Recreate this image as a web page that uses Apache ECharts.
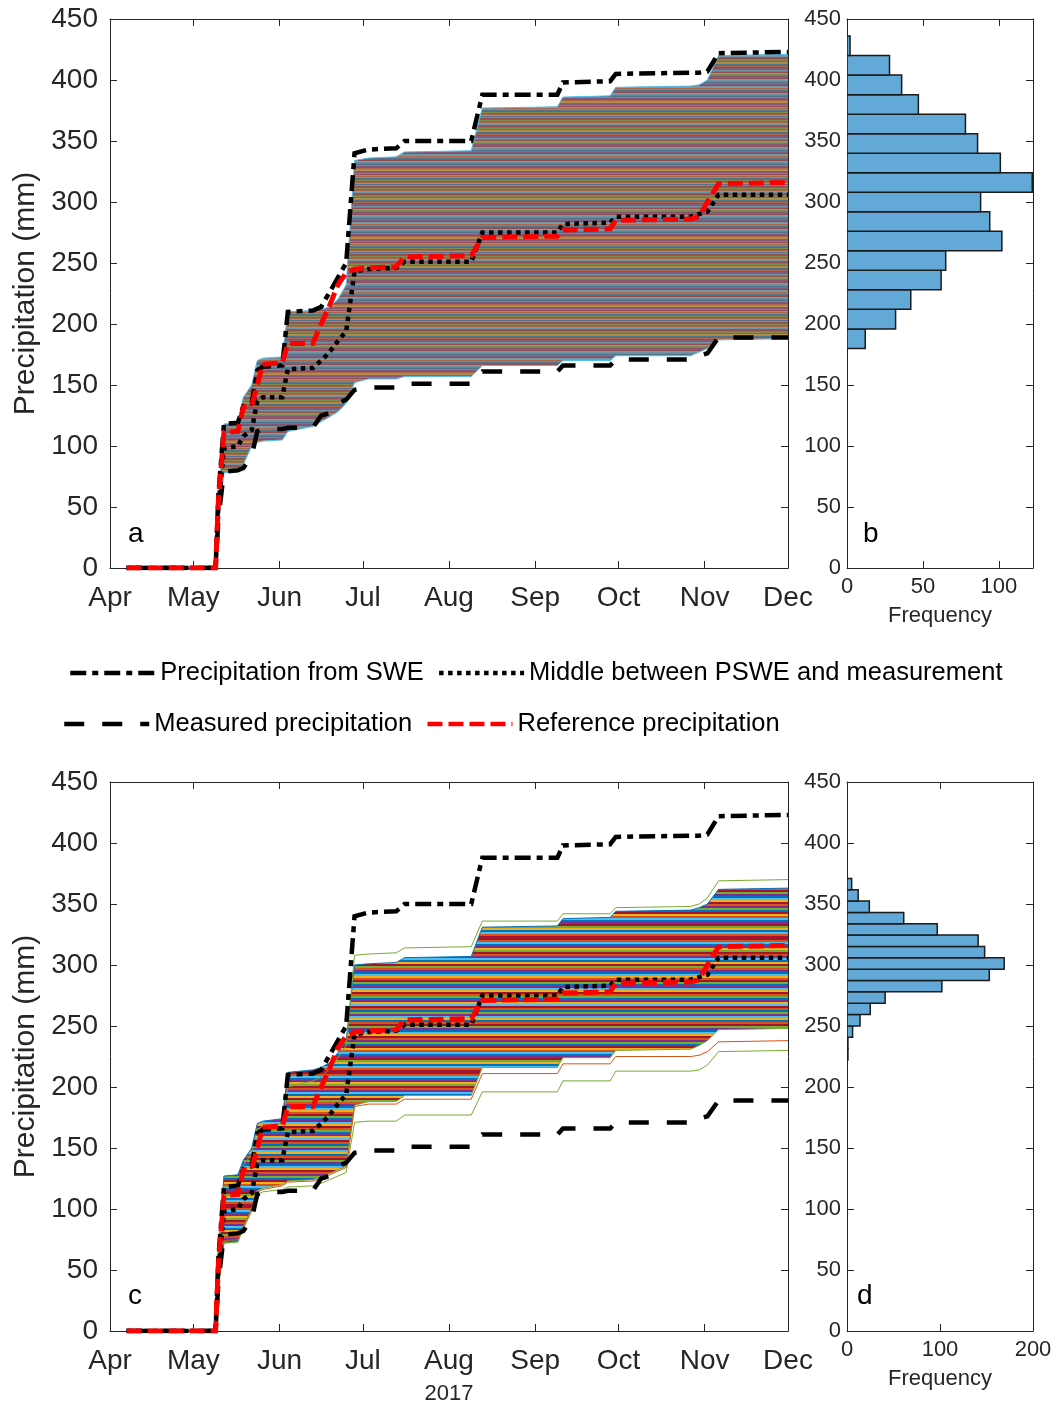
<!DOCTYPE html>
<html>
<head>
<meta charset="utf-8">
<script src="https://cdn.jsdelivr.net/npm/echarts@6.0.0/dist/echarts.min.js"></script>
<style>
  html, body { margin: 0; padding: 0; background: #fff; }
  #chart { width: 1056px; height: 1407px; }
</style>
</head>
<body>
<div id="chart"></div>
<script>
// ---- Cumulative precipitation, 2017 season (mm) ----
const stepDates = [
  '2017-04-07', '2017-05-09', '2017-05-10', '2017-05-12', '2017-05-17', '2017-05-19',
  '2017-05-22', '2017-05-24', '2017-05-26', '2017-06-02', '2017-06-04', '2017-06-13',
  '2017-06-16', '2017-06-19', '2017-06-22', '2017-06-25', '2017-06-28', '2017-07-03',
  '2017-07-13', '2017-07-16', '2017-08-09', '2017-08-13', '2017-09-09', '2017-09-11',
  '2017-09-28', '2017-09-30', '2017-10-27', '2017-10-30', '2017-11-02', '2017-11-06',
  '2017-12-01'
];
const psweValues      = [0, 0, 60, 118, 119, 133, 135, 162, 165, 166, 210, 211, 214, 226, 238, 250, 340, 343, 344, 350, 350, 388, 388, 398, 399, 405, 406, 406, 407, 422, 423];
const measuredValues  = [0, 0, 40, 79, 80, 82, 92, 112, 114, 114, 115, 115, 125, 127, 135, 138, 146, 148, 148, 151, 151, 161, 161, 166, 166, 171, 171, 174, 176, 189, 189];
const middleValues    = [0, 0, 50, 98, 100, 108, 113, 137, 140, 140, 163, 164, 170, 177, 186, 194, 243, 245, 246, 251, 251, 275, 275, 282, 283, 288, 288, 290, 292, 306, 306];
const referenceValues = [0, 0, 55, 111, 112, 132, 133, 150, 167, 168, 184, 184, 200, 215, 232, 242, 245, 246, 247, 255, 256, 271, 272, 277, 278, 285, 286, 288, 300, 315, 316];

// ensemble envelope, panel a
const ensALower = [0, 0, 40, 78, 79, 85, 100, 103, 104, 105, 112, 116, 120, 124, 128, 135, 152, 155, 155, 157, 157, 166, 166, 170, 170, 174, 174, 177, 180, 187, 188];
const ensAUpper = [0, 0, 60, 118, 119, 140, 150, 170, 172, 173, 210, 211, 212, 214, 220, 232, 334, 336, 337, 341, 342, 377, 378, 386, 387, 394, 395, 396, 400, 420, 421];

// ensemble core envelope and outlying members, panel c
const ensCLower = [0, 0, 36, 72, 73, 85, 100, 115, 117, 120, 123, 124, 126, 129, 132, 135, 185, 188, 188, 193, 193, 216, 216, 224, 224, 230, 231, 234, 238, 247, 248];
const ensCUpper = [0, 0, 64, 127, 128, 140, 150, 170, 172, 174, 212, 214, 216, 220, 228, 238, 300, 301, 302, 306, 307, 331, 332, 338, 339, 344, 345, 347, 350, 362, 363];
const memberHigh   = [0, 0, 60, 118, 120, 136, 145, 165, 168, 170, 200, 205, 208, 215, 224, 234, 308, 309, 310, 314, 315, 336, 336, 342, 342, 347, 348, 350, 355, 369, 370];
const memberLow    = [0, 0, 36, 72, 73, 84, 98, 112, 114, 116, 118, 119, 121, 124, 127, 130, 171, 172, 172, 177, 177, 196, 196, 205, 205, 213, 213, 214, 218, 229, 230];
const memberLow2   = [0, 0, 38, 74, 75, 86, 100, 114, 116, 119, 122, 123, 125, 128, 131, 134, 184, 186, 186, 190, 190, 211, 211, 219, 219, 225, 225, 226, 229, 237, 238];

// histograms of final totals
const histBEdges  = [180, 196, 212, 228, 244, 260, 276, 292, 308, 324, 340, 356, 372, 388, 404, 420, 436];
const histBCounts = [12, 32, 42, 62, 65, 102, 94, 88, 122, 101, 86, 78, 47, 36, 28, 2];
const histDEdges  = [222.2, 231.5, 240.8, 250.1, 259.4, 268.7, 278.0, 287.3, 296.6, 305.9, 315.2, 324.5, 333.8, 343.1, 352.4, 361.7, 371.0];
const histDCounts = [1, 1, 6, 14, 25, 41, 102, 153, 169, 148, 141, 97, 61, 24, 12, 5];

const monthNames = ['Jan', 'Feb', 'Mar', 'Apr', 'May', 'Jun', 'Jul', 'Aug', 'Sep', 'Oct', 'Nov', 'Dec'];

// ---- styling ----
const DAY = 86400000;
const AX = '#262626';
const FONT = '"Liberation Sans", Arial, Helvetica, sans-serif';
const lineColors = ['#0072BD', '#D95319', '#EDB120', '#7E2F8E', '#77AC30', '#4DBEEE', '#A2142F'];
const HIST_FILL = '#63a9d7';

function hexRgb(h) {
  return [parseInt(h.slice(1, 3), 16), parseInt(h.slice(3, 5), 16), parseInt(h.slice(5, 7), 16)];
}
// horizontal multi-coloured stripes used to fill the ensemble band
function stripes(order, keep, rowH) {
  const base = [138, 118, 106];
  const cv = document.createElement('canvas');
  cv.width = 8;
  cv.height = order.length * rowH;
  const ctx = cv.getContext('2d');
  for (let i = 0; i < order.length; i++) {
    const c = hexRgb(lineColors[+order[i]]);
    const m = c.map((v, k) => Math.round(base[k] + keep * (v - base[k])));
    ctx.fillStyle = 'rgb(' + m.join(',') + ')';
    ctx.fillRect(0, i * rowH, 8, rowH);
  }
  return { image: cv, repeat: 'repeat' };
}
const patternA = stripes('30516241306254013652140362510436152034621503461205634012536140250316', 0.42, 1);
const patternC = stripes('6150324613502641305216403526140325610435201643052613406215036420516', 1.0, 2);

function pairs(vals) { return stepDates.map((d, i) => [d, vals[i]]); }

function timeAxis(gi, pos, labels, extra) {
  return Object.assign({
    type: 'time', gridIndex: gi, position: pos,
    min: '2017-04-01', max: '2017-12-01',
    minInterval: 28 * DAY, maxInterval: 31 * DAY,
    splitLine: { show: false },
    axisLine: { show: true, onZero: false, lineStyle: { color: AX, width: 1 } },
    axisTick: { show: true, inside: true, length: 7, lineStyle: { color: AX } },
    axisLabel: labels ? {
      show: true, margin: 16, fontSize: 28, color: AX, fontFamily: FONT,
      showMinLabel: true, showMaxLabel: true, hideOverlap: false,
      formatter: v => monthNames[new Date(v).getMonth()]
    } : { show: false }
  }, extra || {});
}
function valAxis(gi, pos, labels, min, max, interval, fs, margin, extra) {
  return Object.assign({
    type: 'value', gridIndex: gi, position: pos, min, max, interval,
    splitLine: { show: false },
    axisLine: { show: true, onZero: false, lineStyle: { color: AX, width: 1 } },
    axisTick: { show: true, inside: true, length: 7, lineStyle: { color: AX } },
    axisLabel: labels ? { show: true, fontSize: fs, margin, color: AX, fontFamily: FONT, showMaxLabel: max % interval === 0 } : { show: false }
  }, extra || {});
}

const yName = {
  name: 'Precipitation (mm)', nameLocation: 'middle', nameGap: 65,
  nameTextStyle: { fontSize: 30, color: AX, fontFamily: FONT }
};
const freqName = {
  name: 'Frequency', nameLocation: 'middle', nameGap: 37,
  nameTextStyle: { fontSize: 22, color: AX, fontFamily: FONT }
};

const styles = {
  'Precipitation from SWE': { color: '#000', width: 4.5, type: [16, 6, 6, 6] },
  'Measured precipitation': { color: '#000', width: 4.5, type: [20, 18] },
  'Middle between PSWE and measurement': { color: '#000', width: 4.5, type: [4.5, 4.5] },
  'Reference precipitation': { color: '#ff0000', width: 5, type: [15, 6] }
};
const mainValues = {
  'Precipitation from SWE': psweValues,
  'Measured precipitation': measuredValues,
  'Middle between PSWE and measurement': middleValues,
  'Reference precipitation': referenceValues
};

function mainLines(xi, yi) {
  return Object.keys(mainValues).map((name, k) => ({
    name, type: 'line', xAxisIndex: xi, yAxisIndex: yi,
    data: pairs(mainValues[name]), symbol: 'none', showSymbol: false,
    z: 10 + k,
    color: styles[name].color,
    lineStyle: Object.assign({ cap: 'butt', join: 'miter' }, styles[name])
  }));
}
function band(id, xi, yi, lower, upper, pattern, edgeLo, edgeHi) {
  return [
    { name: id + '-lo', type: 'line', stack: id, xAxisIndex: xi, yAxisIndex: yi, symbol: 'none',
      data: pairs(lower), lineStyle: { color: edgeLo, width: 1 }, z: 3 },
    { name: id + '-hi', type: 'line', stack: id, xAxisIndex: xi, yAxisIndex: yi, symbol: 'none',
      data: stepDates.map((d, i) => [d, upper[i] - lower[i]]),
      lineStyle: { color: edgeHi, width: 1 }, areaStyle: { color: pattern, opacity: 1 }, z: 3 }
  ];
}
function member(name, vals, color, xi, yi) {
  return { name, type: 'line', xAxisIndex: xi, yAxisIndex: yi, symbol: 'none', data: pairs(vals),
    lineStyle: { color, width: 1 }, z: 4 };
}
function histSeries(edges, counts, xi, yi) {
  return {
    type: 'custom', xAxisIndex: xi, yAxisIndex: yi, clip: true,
    data: counts.map((c, i) => [edges[i], edges[i + 1], c]),
    encode: { x: 2, y: [0, 1] },
    renderItem(params, api) {
      const a = api.coord([0, api.value(1)]);
      const b = api.coord([api.value(2), api.value(0)]);
      return { type: 'rect', shape: { x: a[0], y: a[1], width: b[0] - a[0], height: b[1] - a[1] },
        style: { fill: HIST_FILL, stroke: '#1a1a1a', lineWidth: 1.5 } };
    }
  };
}

const legendBase = {
  orient: 'horizontal', itemWidth: 85, itemHeight: 14, itemGap: 13, padding: 0,
  selectedMode: false,
  itemStyle: { opacity: 0 },
  lineStyle: { width: 4.5 },
  textStyle: { fontSize: 25.5, color: '#000', fontFamily: FONT }
};
const letter = (t, left, top) => ({ text: t, left, top, padding: 0,
  textStyle: { fontSize: 28, fontWeight: 'normal', color: '#000', fontFamily: FONT } });

const option = {
  animation: false,
  backgroundColor: '#fff',
  textStyle: { fontFamily: FONT },
  title: [letter('a', 128, 520), letter('b', 863, 520), letter('c', 128, 1282), letter('d', 857, 1282)],
  legend: [
    Object.assign({ data: ['Precipitation from SWE', 'Middle between PSWE and measurement'], left: 68, top: 660 }, legendBase),
    Object.assign({ data: ['Measured precipitation', 'Reference precipitation'], left: 62, top: 711 }, legendBase)
  ],
  grid: [
    { left: 110, top: 19, width: 678, height: 549 },
    { left: 847, top: 19, width: 186, height: 549 },
    { left: 110, top: 782, width: 678, height: 549 },
    { left: 847, top: 782, width: 186, height: 549 }
  ],
  xAxis: [
    timeAxis(0, 'bottom', true),
    timeAxis(0, 'top', false),
    valAxis(1, 'bottom', true, 0, 122.5, 50, 22, 8, freqName),
    valAxis(1, 'top', false, 0, 122.5, 50),
    timeAxis(2, 'bottom', true, { name: '2017', nameLocation: 'middle', nameGap: 52,
      nameTextStyle: { fontSize: 22, color: AX, fontFamily: FONT } }),
    timeAxis(2, 'top', false),
    valAxis(3, 'bottom', true, 0, 200, 100, 22, 8, freqName),
    valAxis(3, 'top', false, 0, 200, 100)
  ],
  yAxis: [
    valAxis(0, 'left', true, 0, 450, 50, 28, 12, yName),
    valAxis(0, 'right', false, 0, 450, 50),
    valAxis(1, 'left', true, 0, 450, 50, 22, 6),
    valAxis(1, 'right', false, 0, 450, 50),
    valAxis(2, 'left', true, 0, 450, 50, 28, 12, yName),
    valAxis(2, 'right', false, 0, 450, 50),
    valAxis(3, 'left', true, 0, 450, 50, 22, 6),
    valAxis(3, 'right', false, 0, 450, 50)
  ],
  series: [
    ...band('ensA', 0, 0, ensALower, ensAUpper, patternA, '#4DBEEE', '#4DBEEE'),
    ...mainLines(0, 0),
    histSeries(histBEdges, histBCounts, 2, 2),
    ...band('ensC', 4, 4, ensCLower, ensCUpper, patternC, '#77AC30', '#0072BD'),
    member('member-high', memberHigh, '#77AC30', 4, 4),
    member('member-low', memberLow, '#77AC30', 4, 4),
    member('member-low2', memberLow2, '#D95319', 4, 4),
    ...mainLines(4, 4),
    histSeries(histDEdges, histDCounts, 6, 6)
  ]
};

const chart = echarts.init(document.getElementById('chart'), null, { renderer: 'canvas' });
chart.setOption(option);
</script>
</body>
</html>
